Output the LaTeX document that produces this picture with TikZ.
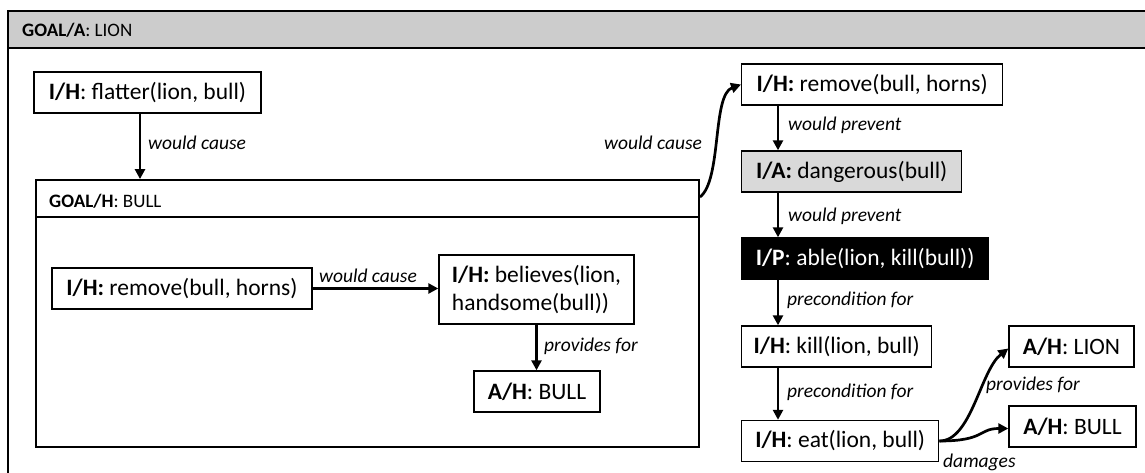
\documentclass[tikz,border=0pt]{standalone}
\usepackage{fontspec}
\setmainfont{Carlito}
\usetikzlibrary{arrows.meta,calc}
\definecolor{hdrgray}{HTML}{CCCCCC}
\definecolor{boxgray}{HTML}{D9D9D9}
\begin{document}
\begin{tikzpicture}[x=1pt,y=-1pt,
  box/.style={draw=black,line width=1.4pt,minimum height=41pt,inner xsep=0pt,inner ysep=0pt,
    font=\fontsize{23.5}{28}\selectfont},
  colbox/.style={box,anchor=west},
  lbl/.style={font=\fontsize{19.5}{23}\selectfont\itshape,inner sep=0pt},
  hdr/.style={font=\fontsize{19}{23}\selectfont,inner sep=0pt,anchor=west},
  arr/.style={line width=2.7pt,-{Triangle[length=10pt,width=10pt]}},
  frame/.style={draw=black,line width=1.8pt}]
\useasboundingbox (0,0) rectangle (1145,473);
\clip (0,0) rectangle (1145,473);
\fill[white] (0,0) rectangle (1145,473);

% outer goal frame
\fill[hdrgray] (8,11) rectangle (1170,48);
\draw[frame] (8,11) rectangle (1170,500);
\draw[frame] (8,48) -- (1170,48);
\node[hdr] (goalA) at (22,30) {\textbf{GOAL/A}: LION};

% left part
\node[box,minimum width=227pt] (flatter) at (147.5,92.5) {\textbf{I/H}: flatter(lion, bull)};
\node[draw=black,line width=1.8pt,minimum width=663pt,minimum height=267pt,inner sep=0pt] (goalh) at (367.5,313.5) {};
\draw[line width=1.8pt] ($(goalh.north west)+(0,38)$) -- ($(goalh.north east)+(0,38)$);
\node[hdr] (goalHt) at (49,201) {\textbf{GOAL/H}: BULL};

\node[box,minimum width=260pt] (rem1) at (182,288.5) {\textbf{I/H:} remove(bull, horns)};
\node[box,minimum width=195pt,minimum height=69pt,align=left] (bel) at (536.5,289.5)
  {\textbf{I/H:} believes(lion,\\handsome(bull))};
\node[box,minimum width=126pt] (ahb1) at (537,391.5) {\textbf{A/H}: BULL};

\draw[arr] ([xshift=-7.5pt]flatter.south) -- ([xshift=-7.5pt]flatter.south |- goalh.north);
\node[lbl,anchor=west] (l1) at (148,143) {would cause};

\draw[arr] (rem1.east) -- (rem1.east -| bel.west);
\node[lbl] (l2) at (368,276) {would cause};

\draw[arr] (bel.south) -- (bel.south |- ahb1.north);
\node[lbl,anchor=west] (l3) at (544,346) {provides for};

% right column
\node[colbox,minimum width=261pt] (rem2) at (741,84.5) {\textbf{I/H:} remove(bull, horns)};
\node[colbox,minimum width=220pt,fill=boxgray] (dang) at (741,171.5) {\textbf{I/A:} dangerous(bull)};
\node[colbox,minimum width=247pt,fill=black,text=white] (able) at (741,258.5) {\textbf{I/P}: able(lion, kill(bull))};
\node[colbox,minimum width=190pt] (kill) at (741,346.5) {\textbf{I/H}: kill(lion, bull)};
\node[colbox,minimum width=197pt] (eat) at (741,441) {\textbf{I/H}: eat(lion, bull)};
\node[box,minimum width=125pt] (ahl) at (1071.5,346.5) {\textbf{A/H}: LION};
\node[box,minimum width=127pt] (ahb2) at (1072.5,426.5) {\textbf{A/H}: BULL};

\coordinate (ghout) at ($(goalh.north east)+(0,18)$);
\draw[arr] (ghout) .. controls (722,180) and (712,95) .. (rem2.west);
\node[lbl,anchor=west] (l4) at (604,143) {would cause};

\draw[arr] ([xshift=37pt]rem2.south west) -- ([xshift=37pt]dang.north west);
\node[lbl,anchor=west] (l5) at (788,125) {would prevent};
\draw[arr] ([xshift=37pt]dang.south west) -- ([xshift=37pt]able.north west);
\node[lbl,anchor=west] (l6) at (788,216) {would prevent};
\draw[arr] ([xshift=37pt]able.south west) -- ([xshift=37pt]kill.north west);
\node[lbl,anchor=west] (l7) at (787,300) {precondition for};
\draw[arr] ([xshift=37pt]kill.south west) -- ([xshift=37pt]eat.north west);
\node[lbl,anchor=west] (l8) at (787,392) {precondition for};

\draw[arr] (eat.east) .. controls +(32,0) and +(-28,22) .. ([yshift=-2pt]ahl.west);
\node[lbl,anchor=west] (l9) at (986,385) {provides for};
\draw[arr] (eat.east) .. controls +(46,0) and +(-30,0) .. ([yshift=-2pt]ahb2.west);
\node[lbl,anchor=west] (l10) at (943,462) {damages};
\end{tikzpicture}
\end{document}
